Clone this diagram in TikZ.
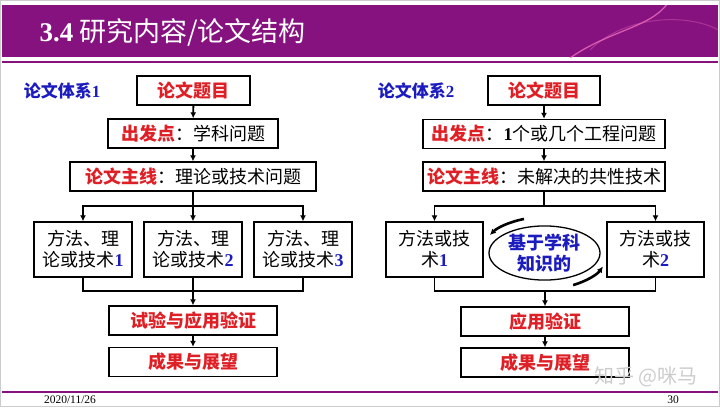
\documentclass[tikz,border=0pt]{standalone}
\usepackage{fontspec}
\setmainfont{Liberation Serif}
\newfontfamily\cjk{Noto Sans CJK SC}
\usetikzlibrary{shapes.geometric,arrows.meta}
\definecolor{slidepurple}{RGB}{134,18,128}
\definecolor{keyred}{RGB}{222,32,38}
\definecolor{keyblue}{RGB}{28,28,190}
\newcommand{\redkey}[1]{{\color{keyred}\bfseries #1}}
\newcommand{\bluedigit}[1]{{\rmfamily\bfseries\color{keyblue}#1}}
\begin{document}
\begin{tikzpicture}[x=1pt, y=-1pt, font=\cjk\fontsize{18}{21}\selectfont, >={Latex[length=6pt,width=6pt]},
  box/.style={draw, line width=1.4pt, inner sep=0pt, minimum height=29pt, align=center},
  link/.style={->, line width=1.9pt},
  turn/.style={->, line width=2.6pt}]
  \useasboundingbox (0,0) rectangle (720,407);
  \draw[gray!40] (0.5,0.5) rectangle (719.5,406.5);
  % header band
  \fill[slidepurple] (2,5) rectangle (718,57);
  \begin{scope}
    \clip (2,5) rectangle (718,57);
    \draw[magenta!55!white, line width=1.3pt, opacity=0.75] (570,58) .. controls (610,30) and (650,28) .. (668,3);
    \draw[magenta!55!white, line width=1pt, opacity=0.35] (590,50) .. controls (625,15) and (690,12) .. (722,32);
  \end{scope}
  \node[anchor=west, text=white, font=\cjk\fontsize{27}{30}\selectfont] (title) at (36,32) {{\rmfamily\bfseries 3.4} 研究内容/论文结构};
  \draw[slidepurple, line width=2pt] (2,62) -- (718,62);
  \draw[slidepurple, line width=1.5pt] (2,392) -- (718,392);
  \node[font=\rmfamily\fontsize{11.5}{13}\selectfont] (date) at (70,399.5) {2020/11/26};
  \node[font=\rmfamily\fontsize{11.5}{13}\selectfont] (page) at (673,399.5) {30};

  % system 1
  \node[text=keyblue, font=\cjk\bfseries\fontsize{17}{20}\selectfont] (sys1) at (62,91) {论文体系\bluedigit{1}};
  \node[box, minimum width=113pt] (topic1) at (193.5,90.5) {\redkey{论文题目}};
  \node[box, minimum width=170pt] (start1) at (193,133.5) {\redkey{出发点}：学科问题};
  \node[box, minimum width=246pt] (line1) at (193,176.5) {\redkey{论文主线}：理论或技术问题};
  \node[box, minimum width=98pt, minimum height=55pt] (m1) at (83,249.5) {方法、理\\论或技术\bluedigit{1}};
  \node[box, minimum width=98pt, minimum height=55pt] (m2) at (193,249.5) {方法、理\\论或技术\bluedigit{2}};
  \node[box, minimum width=98pt, minimum height=55pt] (m3) at (303,249.5) {方法、理\\论或技术\bluedigit{3}};
  \node[box, minimum width=168pt] (test1) at (193,320.5) {\redkey{试验与应用验证}};
  \node[box, minimum width=168pt] (out1) at (193,362) {\redkey{成果与展望}};
  \draw[link] (topic1) -- (start1);
  \draw[link] (start1) -- (line1);
  \draw[link] (line1.south) -- ++(0,14) -| (m1.north);
  \draw[link] (line1.south) -- (m2.north);
  \draw[link] (line1.south) -- ++(0,14) -| (m3.north);
  \draw[line width=1.9pt] (m1.south) -- ++(0,13) -| (m3.south);
  \draw[link] (m2.south) -- (test1.north);
  \draw[link] (test1) -- (out1);

  % system 2
  \node[text=keyblue, font=\cjk\bfseries\fontsize{17}{20}\selectfont] (sys2) at (416,91) {论文体系\bluedigit{2}};
  \node[box, minimum width=112pt] (topic2) at (544,90.5) {\redkey{论文题目}};
  \node[box, minimum width=242pt] (start2) at (544,134) {\redkey{出发点}：{\rmfamily\bfseries 1}个或几个工程问题};
  \node[box, minimum width=242pt] (line2) at (544,176.5) {\redkey{论文主线}：未解决的共性技术};
  \node[box, minimum width=97pt, minimum height=55pt] (r1) at (434.5,249.5) {方法或技\\术\bluedigit{1}};
  \node[box, minimum width=97pt, minimum height=55pt] (r2) at (655.5,249.5) {方法或技\\术\bluedigit{2}};
  \node[ellipse, draw, line width=1.3pt, minimum width=111pt, minimum height=52pt, inner sep=0pt, align=center, text=keyblue, font=\cjk\bfseries\fontsize{18}{21}\selectfont] (know) at (544.5,253) {基于学科\\知识的};
  \node[box, minimum width=168pt] (app2) at (545,321.5) {\redkey{应用验证}};
  \node[box, minimum width=168pt] (out2) at (545,362.5) {\redkey{成果与展望}};
  \coordinate (join2) at (545,290);
  \draw[link] (topic2) -- (start2);
  \draw[link] (start2) -- (line2);
  \draw[link] (line2.south) -- ++(0,14) -| (r1.north);
  \draw[link] (line2.south) -- ++(0,14) -| (r2.north);
  \draw[line width=1.9pt] (r1.south) -- ++(0,13) -| (r2.south);
  \draw[link] (join2) -- (app2.north);
  \draw[link] (app2) -- (out2);
  % turning arrows round the ellipse
  \draw[turn] ([shift={(-109:63 and 36)}]know.center) arc[start angle=-109, end angle=-150, x radius=63, y radius=36];
  \draw[turn] ([shift={(63:63 and 36)}]know.center) arc[start angle=63, end angle=22, x radius=63, y radius=36];

  \node[text=gray!40, font=\cjk\fontsize{20}{22}\selectfont] (mark) at (646,377) {知乎 @咪马};
\end{tikzpicture}
\end{document}
